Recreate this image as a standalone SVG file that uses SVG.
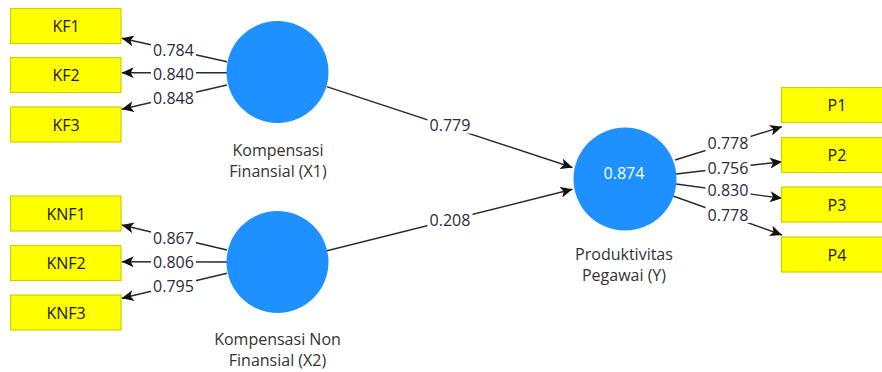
<svg xmlns="http://www.w3.org/2000/svg" width="882" height="372" viewBox="0 0 882 372">
<style>
  .ind rect { fill: #ffff00; stroke: #cfcf00; stroke-width: 1.2; }
  .ind text { font-family: "Open Sans", "Noto Sans", "Liberation Sans", sans-serif; font-size: 16px; fill: #1a1a1a; text-anchor: middle; }
  .lat circle { fill: #1e90ff; }
  .lat text { font-family: "Open Sans", "Noto Sans", "Liberation Sans", sans-serif; font-size: 16px; fill: #333333; text-anchor: middle; }
  .lat text.r2 { fill: #ffffff; }
  .edges line { stroke: #2a2a2a; stroke-width: 1.4; marker-end: url(#arr); }
  .edges rect { fill: #ffffff; }
  .edges text { font-family: "Open Sans", "Noto Sans", "Liberation Sans", sans-serif; font-size: 16px; fill: #2a2a40; text-anchor: middle; }
</style>
<defs>
  <marker id="arr" markerUnits="userSpaceOnUse" markerWidth="13" markerHeight="11" refX="12" refY="5.5" orient="auto">
    <path d="M0,0 L12,5.5 L0,11 L3,5.5 z" fill="#111111"/>
  </marker>
</defs>
<rect x="0" y="0" width="882" height="372" fill="#ffffff"/>

<g id="connectors" class="edges">
  <line x1="227" y1="61.7" x2="121.7" y2="38.3"/>
  <line x1="227" y1="72.7" x2="121.7" y2="72.7"/>
  <line x1="227" y1="85" x2="121.7" y2="109.3"/>
  <line x1="227" y1="250" x2="121.7" y2="225"/>
  <line x1="227" y1="262" x2="121.7" y2="261.7"/>
  <line x1="227" y1="273.3" x2="121.7" y2="298.3"/>
  <line x1="326.7" y1="86.7" x2="572.5" y2="167.5"/>
  <line x1="326" y1="251" x2="572.5" y2="189.3"/>
  <line x1="675" y1="160" x2="782" y2="126.7"/>
  <line x1="676" y1="174" x2="782" y2="161.7"/>
  <line x1="676" y1="184" x2="782" y2="198.3"/>
  <line x1="673" y1="196" x2="782" y2="235"/>

  <rect x="151" y="42" width="45" height="16"/><text x="173.5" y="55.5">0.784</text>
  <rect x="151" y="66" width="45" height="16"/><text x="173.5" y="79.5">0.840</text>
  <rect x="151" y="91" width="45" height="16"/><text x="173.5" y="104">0.848</text>
  <rect x="151" y="230.5" width="45" height="16"/><text x="173.5" y="244">0.867</text>
  <rect x="151" y="254" width="45" height="16"/><text x="173.5" y="267.5">0.806</text>
  <rect x="151" y="278.5" width="45" height="16"/><text x="173.5" y="292">0.795</text>
  <rect x="427.5" y="117.5" width="45" height="16"/><text x="450" y="131">0.779</text>
  <rect x="427.5" y="212" width="45" height="16"/><text x="450" y="225.5">0.208</text>
  <rect x="705.5" y="135.5" width="45" height="16"/><text x="728" y="149">0.778</text>
  <rect x="705.5" y="160.5" width="45" height="16"/><text x="728" y="174">0.756</text>
  <rect x="705.5" y="182.5" width="45" height="16"/><text x="728" y="196">0.830</text>
  <rect x="705.5" y="207" width="45" height="16"/><text x="728" y="220.5">0.778</text>
</g>

<g id="KF1" class="ind"><rect x="10.5" y="8.5" width="110.5" height="35"/><text x="66" y="32">KF1</text></g>
<g id="KF2" class="ind"><rect x="10.5" y="57.5" width="110.5" height="35"/><text x="66" y="81">KF2</text></g>
<g id="KF3" class="ind"><rect x="10.5" y="107" width="110.5" height="35"/><text x="66" y="130.5">KF3</text></g>
<g id="KNF1" class="ind"><rect x="10.5" y="196" width="110.5" height="35"/><text x="66" y="219.5">KNF1</text></g>
<g id="KNF2" class="ind"><rect x="10.5" y="245.5" width="110.5" height="35"/><text x="66" y="269">KNF2</text></g>
<g id="KNF3" class="ind"><rect x="10.5" y="295" width="110.5" height="35"/><text x="66" y="318.5">KNF3</text></g>
<g id="P1" class="ind"><rect x="781.5" y="87.5" width="112" height="35"/><text x="837" y="111">P1</text></g>
<g id="P2" class="ind"><rect x="781.5" y="137.5" width="112" height="35"/><text x="837" y="161">P2</text></g>
<g id="P3" class="ind"><rect x="781.5" y="187" width="112" height="35"/><text x="837" y="210.5">P3</text></g>
<g id="P4" class="ind"><rect x="781.5" y="237" width="112" height="35"/><text x="837" y="260.5">P4</text></g>

<g id="X1" class="lat">
  <circle cx="277.5" cy="72" r="51"/>
  <text x="278" y="156">Kompensasi</text>
  <text x="278" y="177">Finansial (X1)</text>
</g>
<g id="X2" class="lat">
  <circle cx="277.5" cy="262" r="51"/>
  <text x="277.5" y="345">Kompensasi Non</text>
  <text x="277.5" y="366">Finansial (X2)</text>
</g>
<g id="Y" class="lat">
  <circle cx="625" cy="179" r="51.5"/>
  <text class="r2" x="624" y="179">0.874</text>
  <text x="624" y="260">Produktivitas</text>
  <text x="624" y="281">Pegawai (Y)</text>
</g>
</svg>
